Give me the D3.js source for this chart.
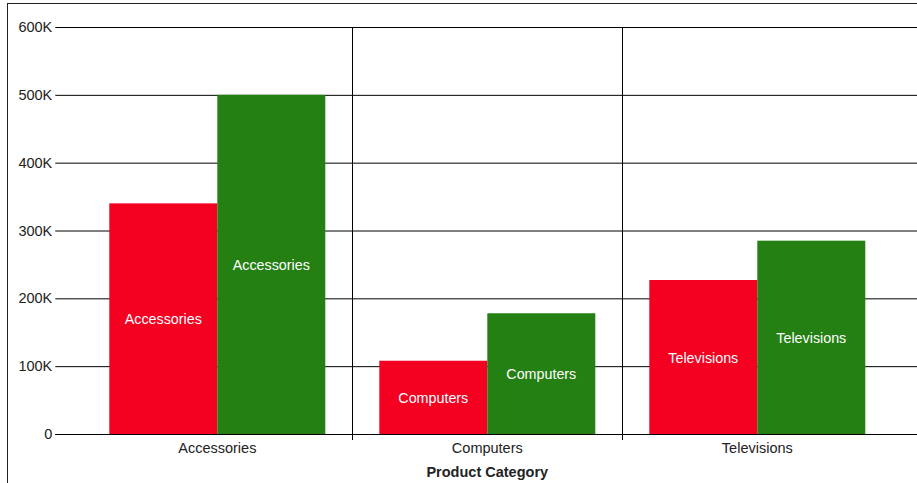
<!DOCTYPE html>
<html>
<head>
<meta charset="utf-8">
<script src="https://cdn.jsdelivr.net/npm/d3@7"></script>
<style>
  html, body { margin: 0; padding: 0; background: #fff; overflow: hidden; }
  svg { display: block; font-family: "Liberation Sans", Arial, sans-serif; }
</style>
</head>
<body>
<svg id="chart" width="917" height="483"></svg>
<script>
const categories = ["Accessories", "Computers", "Televisions"];
const seriesNames = ["Previous", "Current"];
const seriesA = [340000, 108000, 227000];
const seriesB = [500000, 178000, 285000];
const yTicks = [0, 100000, 200000, 300000, 400000, 500000, 600000];
const yTickLabels = ["0", "100K", "200K", "300K", "400K", "500K", "600K"];
const colors = ["#F40021", "#248013"];
const xTitle = "Product Category";

const svg = d3.select("#chart");
const margin = { left: 55.3, top: 27, right: 919.3, bottom: 434 };
const fs = 14.5;

// frame
svg.append("rect")
  .attr("x", 7.5).attr("y", 3.5)
  .attr("width", 1000).attr("height", 1000)
  .attr("fill", "none").attr("stroke", "#222").attr("stroke-width", 1);

const x = d3.scaleBand().domain(categories)
  .range([margin.left, margin.right])
  .paddingInner(0.2).paddingOuter(0.2);
const x1 = d3.scaleBand().domain(seriesNames).range([0, x.bandwidth()]);
const y = d3.scaleLinear().domain([0, 600000]).range([margin.bottom, margin.top]);

// y axis with gridlines
const yAxis = svg.append("g")
  .attr("transform", `translate(${margin.left},0)`)
  .call(d3.axisLeft(y).tickValues(yTicks)
    .tickFormat((d, i) => yTickLabels[i])
    .tickSize(-(margin.right - margin.left)).tickPadding(3));
yAxis.select(".domain").remove();
yAxis.selectAll(".tick line").attr("stroke", "#000");
yAxis.selectAll(".tick text").attr("font-size", fs).attr("fill", "#222")
  .attr("font-family", "'Liberation Sans', Arial, sans-serif");

// category separators
const step = x.step();
const seps = categories.slice(1).map(c => x(c) - step * x.paddingInner() / 2);
svg.append("g").selectAll("line").data(seps).join("line")
  .attr("x1", d => Math.round(d) + 0.5).attr("x2", d => Math.round(d) + 0.5)
  .attr("y1", y(600000)).attr("y2", y(0) + 6)
  .attr("stroke", "#000");

// bars
const groups = svg.append("g").selectAll("g").data(categories).join("g")
  .attr("transform", d => `translate(${x(d)},0)`);
const rows = (c, i) => [
  { s: seriesNames[0], v: seriesA[i], c },
  { s: seriesNames[1], v: seriesB[i], c }
];
groups.each(function(c, i) {
  const g = d3.select(this);
  const data = rows(c, i);
  g.selectAll("rect").data(data).join("rect")
    .attr("x", d => x1(d.s))
    .attr("width", x1.bandwidth())
    .attr("y", d => y(d.v))
    .attr("height", d => y(0) - y(d.v))
    .attr("fill", (d, j) => colors[j]);
  g.selectAll("text").data(data).join("text")
    .attr("x", d => x1(d.s) + x1.bandwidth() / 2)
    .attr("y", d => (y(d.v) + y(0)) / 2 + 0.5)
    .attr("dy", "0.35em")
    .attr("text-anchor", "middle")
    .attr("fill", "#fff")
    .attr("font-size", 14.3)
    .text(d => d.c);
});

// x axis
const xAxis = svg.append("g")
  .attr("transform", `translate(0,${margin.bottom})`)
  .call(d3.axisBottom(x).tickSize(0).tickPadding(9));
xAxis.select(".domain").attr("stroke", "#000").attr("d", `M${margin.left},0.5H${margin.right}`);
xAxis.selectAll(".tick text").attr("font-size", fs).attr("fill", "#222")
  .attr("font-family", "'Liberation Sans', Arial, sans-serif");

svg.append("text")
  .attr("x", (margin.left + margin.right) / 2)
  .attr("y", 472).attr("dy", "0.35em")
  .attr("text-anchor", "middle")
  .attr("font-size", fs).attr("font-weight", "bold").attr("fill", "#222")
  .text(xTitle);
</script>
</body>
</html>
